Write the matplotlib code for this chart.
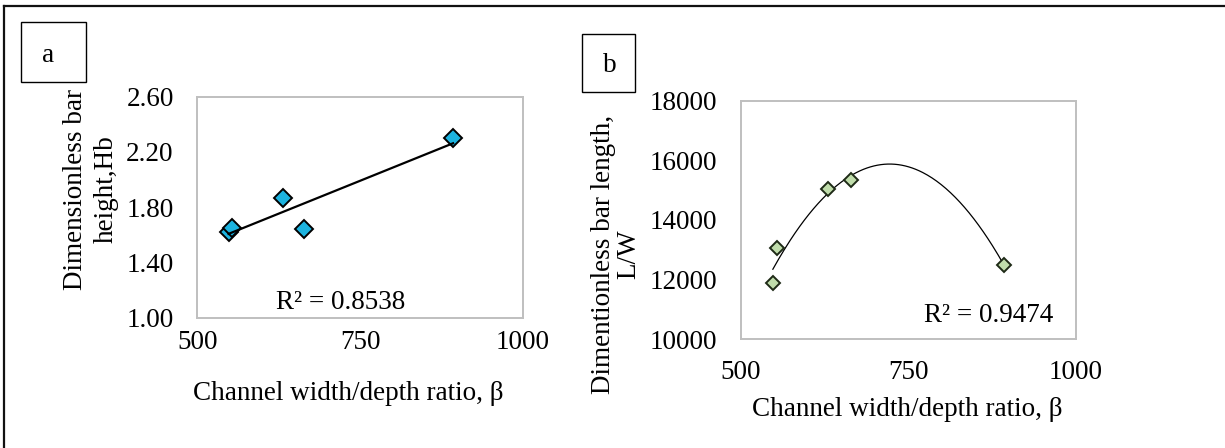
import numpy as np
import matplotlib
matplotlib.use('Agg')
import matplotlib.pyplot as plt
from matplotlib.lines import Line2D
from matplotlib.patches import Rectangle

plt.rcParams['font.family'] = ['Liberation Serif', 'DejaVu Serif']

# data
beta = [548, 554, 631, 664, 893]
bar_height = [1.62, 1.65, 1.87, 1.64, 2.30]
bar_length = [11870, 13060, 15030, 15340, 12490]
r2_a = 'R² = 0.8538'
r2_b = 'R² = 0.9474'
xticks = [500, 750, 1000]
yticks_a = [1.00, 1.40, 1.80, 2.20, 2.60]
yticks_b = [10000, 12000, 14000, 16000, 18000]

W, H = 1225, 448
fig = plt.figure(figsize=(W / 100, H / 100), dpi=100)

fs = 19.5

# outer frame (only left and top edges visible)
fig.add_artist(Line2D([4 / W, 4 / W], [0, 1 - 6 / H], transform=fig.transFigure,
                      color='#111111', lw=1.6))
fig.add_artist(Line2D([4 / W, 1], [1 - 6 / H, 1 - 6 / H], transform=fig.transFigure,
                      color='#111111', lw=1.6))


def px_axes(x0, y0, x1, y1):
    return fig.add_axes([x0 / W, 1 - y1 / H, (x1 - x0) / W, (y1 - y0) / H])


def style(ax, pad_x, pad_y):
    for s in ax.spines.values():
        s.set_color('#bfbfbf')
        s.set_linewidth(1.4)
    ax.tick_params(length=0, labelsize=fs)
    ax.tick_params(axis='x', pad=pad_x)
    ax.tick_params(axis='y', pad=pad_y)


# ---- panel a
ax1 = px_axes(197.3, 96.7, 522.7, 317.7)
ax1.set_xlim(500, 1000)
ax1.set_ylim(1.0, 2.6)
ax1.set_xticks(xticks)
ax1.set_yticks(yticks_a)
ax1.set_yticklabels(['{:.2f}'.format(v) for v in yticks_a])
style(ax1, 9, 17)

c = np.polyfit(beta, bar_height, 1)
xl = np.array([min(beta), max(beta)])
ax1.plot(xl, np.polyval(c, xl), color='black', lw=1.6, zorder=3)
ax1.plot(beta, bar_height, 'D', ms=9, mfc='#1cb3df', mec='black', mew=1.4, zorder=2)
ax1.text(0.44, 0.07, r2_a, transform=ax1.transAxes, ha='center', va='center', fontsize=fs)

# ---- panel b
ax2 = px_axes(740.7, 100.7, 1075.7, 339)
ax2.set_xlim(500, 1000)
ax2.set_ylim(10000, 18000)
ax2.set_xticks(xticks)
ax2.set_yticks(yticks_b)
style(ax2, 15, 17)

c2 = np.polyfit(beta, bar_length, 2)
xs = np.linspace(min(beta), max(beta), 200)
ax2.plot(xs, np.polyval(c2, xs), color='black', lw=0.9, zorder=2)
ax2.plot(beta, bar_length, 'D', ms=7.4, mfc='#c0ddab', mec='#1e2a16', mew=1.4, zorder=3)
ax2.text(0.74, 0.10, r2_b, transform=ax2.transAxes, ha='center', va='center', fontsize=fs)

# axis labels
fig.text(348 / W, 1 - 393 / H, 'Channel width/depth ratio, β', ha='center', va='center', fontsize=fs)
fig.text(907 / W, 1 - 409 / H, 'Channel width/depth ratio, β', ha='center', va='center', fontsize=fs)
fig.text(91 / W, 1 - 189 / H, 'Dimensionless bar\nheight,Hb', rotation=90, ha='center',
         va='center', fontsize=fs, linespacing=1.3, multialignment='center')
fig.text(616 / W, 1 - 254 / H, 'Dimentionless bar length,\nL/W', rotation=90, ha='center',
         va='center', fontsize=fs, linespacing=1.05, multialignment='center')

# panel tags
fig.add_artist(Rectangle((21 / W, 1 - 82 / H), 65 / W, 60 / H, transform=fig.transFigure,
                         fill=False, ec='black', lw=1.0))
fig.text(48.5 / W, 1 - 55 / H, 'a', ha='center', va='center', fontsize=fs)
fig.add_artist(Rectangle((582 / W, 1 - 92 / H), 53 / W, 58 / H, transform=fig.transFigure,
                         fill=False, ec='black', lw=1.0))
fig.text(610 / W, 1 - 65 / H, 'b', ha='center', va='center', fontsize=fs)

fig.savefig('out.png', dpi=100)
